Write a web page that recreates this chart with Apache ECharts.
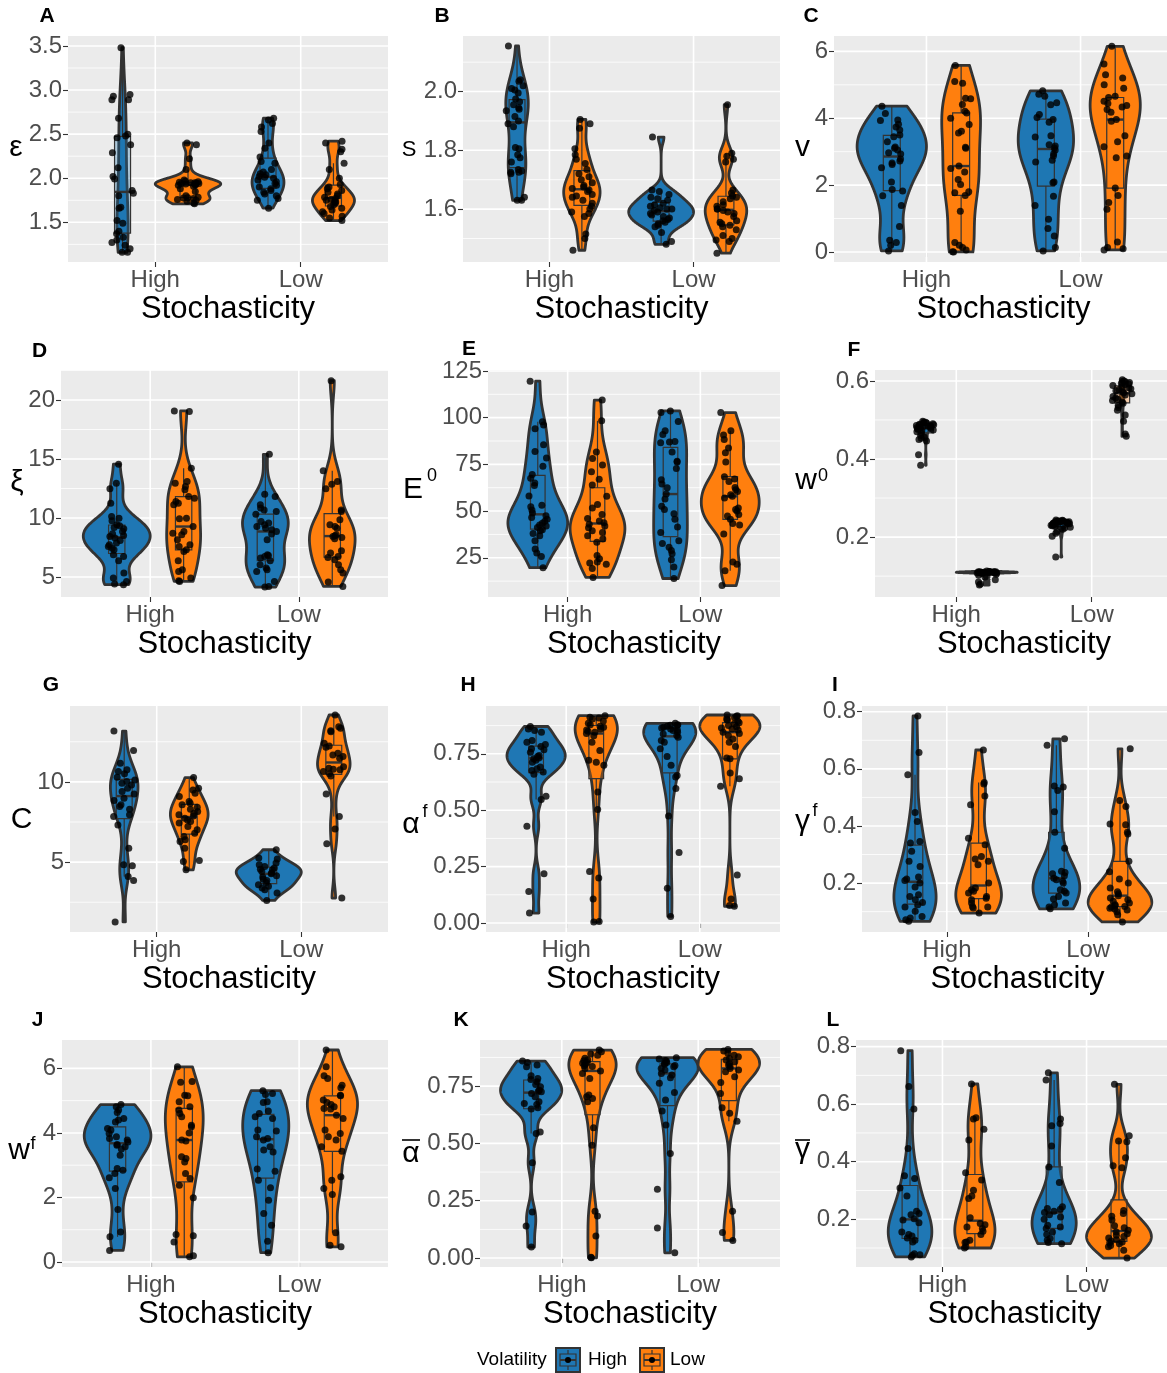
<!DOCTYPE html>
<html><head><meta charset="utf-8">
<script src="https://cdn.jsdelivr.net/npm/echarts@6/dist/echarts.min.js"></script>
<style>html,body{margin:0;padding:0;background:#fff}#chart{width:1167px;height:1373px}</style>
</head><body><div id="chart"></div>
<script>
// ---------------- categories ----------------
const stochasticity = ['High', 'Low'];
const volatility = ['High', 'Low'];

// ---------------- data (name_<Stochasticity><Volatility>) ----------------
// A: epsilon
const eps_HH = [3.48,2.95,2.93,2.89,2.89,2.68,2.50,2.48,2.46,2.38,2.29,2.12,2.02,1.99,1.86,1.83,1.80,1.67,1.66,1.52,1.49,1.40,1.37,1.33,1.30,1.27,1.24,1.20,1.16,1.16];
const eps_HL = [2.40,2.38,2.22,2.10,1.98,1.965,1.96,1.955,1.95,1.948,1.945,1.94,1.94,1.935,1.93,1.925,1.92,1.91,1.88,1.85,1.80,1.785,1.78,1.775,1.77,1.76,1.75,1.74,1.72,1.71];
const eps_LH = [2.68,2.66,2.62,2.58,2.53,2.40,2.34,2.24,2.19,2.17,2.10,2.07,2.05,2.04,2.02,2.01,2.00,1.98,1.96,1.94,1.92,1.90,1.88,1.86,1.84,1.82,1.80,1.77,1.75,1.66];
const eps_LL = [2.42,2.40,2.33,2.30,2.17,2.10,2.00,1.93,1.90,1.88,1.86,1.84,1.82,1.80,1.785,1.77,1.76,1.75,1.74,1.73,1.72,1.70,1.68,1.66,1.64,1.62,1.60,1.57,1.55,1.52];
// B: S
const S_HH = [2.155,2.04,2.035,2.02,2.01,2.005,1.995,1.975,1.965,1.955,1.945,1.94,1.935,1.915,1.90,1.89,1.88,1.81,1.805,1.785,1.775,1.76,1.735,1.73,1.725,1.725,1.72,1.64,1.63,1.63];
const S_HL = [1.905,1.89,1.875,1.805,1.785,1.77,1.755,1.735,1.72,1.71,1.70,1.69,1.68,1.675,1.67,1.665,1.66,1.65,1.645,1.64,1.63,1.62,1.61,1.60,1.59,1.585,1.575,1.515,1.50,1.46];
const S_LH = [1.845,1.665,1.66,1.65,1.64,1.635,1.63,1.62,1.615,1.61,1.605,1.60,1.60,1.595,1.59,1.585,1.58,1.575,1.57,1.565,1.56,1.555,1.55,1.545,1.54,1.52,1.49,1.48];
const S_LL = [1.955,1.79,1.78,1.77,1.76,1.665,1.655,1.645,1.64,1.635,1.625,1.615,1.61,1.60,1.60,1.595,1.59,1.585,1.575,1.56,1.555,1.55,1.545,1.54,1.53,1.51,1.50,1.495,1.49,1.45];
// C: v
const v_HH = [4.36,4.14,3.95,3.93,3.82,3.74,3.65,3.50,3.45,3.30,3.14,3.10,3.05,2.97,2.93,2.78,2.72,2.66,2.62,2.52,2.09,1.87,1.82,1.68,1.39,0.76,0.35,0.28,0.20,0.03];
const v_HL = [5.58,5.10,5.05,4.60,4.58,4.41,4.21,4.16,4.00,3.81,3.61,3.56,3.13,3.10,2.57,2.50,2.39,2.17,2.02,1.80,1.77,1.69,1.22,0.28,0.20,0.13,0.06,0.01,0.00];
const v_LH = [4.82,4.72,4.66,4.46,4.40,4.11,4.02,3.96,3.88,3.48,3.44,3.21,3.17,3.11,3.05,2.94,2.87,2.74,2.69,2.09,2.07,1.67,1.39,0.98,0.70,0.48,0.13,0.03];
const v_LL = [6.15,5.62,5.30,5.20,5.00,4.90,4.66,4.62,4.51,4.44,4.38,4.34,4.26,4.18,3.96,3.91,3.48,3.30,3.15,2.87,2.82,1.91,1.69,1.48,1.28,0.30,0.13,0.10,0.06];
// D: xi
const xi_HH = [14.56,12.95,12.47,11.26,10.13,9.99,9.76,9.43,9.35,9.20,9.09,8.86,8.67,8.52,8.44,8.30,8.10,7.88,7.73,7.59,7.45,7.31,6.89,6.75,6.38,5.34,4.92,4.63,4.41,4.35];
const xi_HL = [19.07,19.03,14.22,13.09,12.95,12.67,12.39,11.82,11.68,11.40,11.26,11.12,9.99,9.93,9.28,8.86,8.72,8.58,8.16,7.73,7.59,7.31,7.17,6.38,5.62,5.48,4.92,4.69,4.63];
const xi_LH = [15.40,12.02,11.82,11.12,10.84,10.69,10.55,10.33,9.71,9.57,9.43,9.28,9.14,9.00,8.86,8.64,8.16,6.89,6.83,6.75,6.61,6.38,6.04,5.76,5.62,5.48,4.63,4.21,4.15];
const xi_LL = [21.63,14.00,13.09,12.87,12.47,10.69,10.55,9.85,9.43,9.28,9.14,8.58,8.50,8.44,8.35,8.24,7.23,7.03,6.75,6.66,6.47,6.04,5.62,5.34,4.58,4.21];
// E: E0
const E0_HH = [119.5,97.8,96.0,94.0,85.5,81.9,78.4,74.0,69.6,67.5,65.0,63.7,58.0,53.1,52.3,50.5,49.0,47.5,46.5,45.6,44.5,43.5,42.5,42.0,41.2,40.0,39.4,38.0,36.8,34.1,29.7,27.5,25.7,19.7];
const E0_HL = [109.4,98.3,81.6,78.1,74.6,71.0,67.0,64.0,57.9,53.5,51.7,48.2,46.0,44.7,43.8,42.9,42.0,41.0,39.4,38.5,36.8,35.0,33.3,26.2,24.5,22.7,22.2,21.5,19.2,14.5];
const E0_LH = [103.6,102.7,98.0,93.0,91.0,87.2,86.9,86.5,81.6,76.7,76.3,72.8,66.7,64.5,62.5,59.1,56.5,52.6,50.8,48.6,45.6,41.5,38.5,34.1,32.7,30.6,28.9,27.1,24.0,20.1,13.9];
const E0_LL = [102.7,93.0,90.7,88.3,83.7,81.2,76.3,68.4,67.2,65.8,62.6,61.4,60.5,58.7,57.9,57.0,51.7,50.8,50.0,48.2,47.3,45.6,43.3,42.6,37.7,22.7,21.5,18.0,10.1];
// F: w0
const w0_HH = [0.497,0.495,0.494,0.492,0.490,0.489,0.488,0.487,0.486,0.485,0.484,0.483,0.482,0.481,0.480,0.479,0.478,0.477,0.476,0.474,0.472,0.470,0.466,0.460,0.456,0.453,0.450,0.446,0.411,0.384];
const w0_HL = [0.113,0.112,0.112,0.111,0.111,0.111,0.111,0.110,0.110,0.110,0.110,0.110,0.110,0.110,0.109,0.109,0.109,0.109,0.109,0.108,0.108,0.108,0.107,0.105,0.102,0.098,0.091,0.085,0.080,0.077];
const w0_LH = [0.244,0.243,0.242,0.241,0.241,0.240,0.240,0.239,0.239,0.238,0.238,0.237,0.236,0.236,0.235,0.234,0.233,0.232,0.231,0.230,0.229,0.227,0.225,0.223,0.220,0.214,0.210,0.202,0.149];
const w0_LL = [0.603,0.600,0.598,0.596,0.594,0.592,0.590,0.588,0.585,0.582,0.580,0.578,0.575,0.572,0.570,0.567,0.564,0.560,0.556,0.553,0.550,0.546,0.543,0.538,0.532,0.525,0.513,0.497,0.464,0.458];
// G: C
const C_HH = [13.17,11.95,11.16,10.75,10.64,10.50,10.29,10.12,10.02,9.92,9.81,9.61,9.40,9.25,8.98,8.84,8.57,8.46,8.30,7.95,7.84,7.32,5.87,4.83,4.77,4.11,3.86,1.27];
const C_HL = [10.27,9.61,9.50,9.29,9.09,8.78,8.67,8.57,8.42,8.30,8.15,8.05,7.95,7.88,7.74,7.63,7.53,7.43,7.22,7.01,6.80,6.60,6.39,6.29,5.87,5.10,5.04,4.52];
const C_LH = [5.77,5.25,5.19,4.94,4.83,4.73,4.63,4.56,4.52,4.42,4.32,4.27,4.15,4.07,3.94,3.86,3.73,3.59,3.49,3.38,3.28,3.07,2.61];
const C_LL = [14.17,13.44,13.34,13.19,13.13,12.41,12.24,12.16,11.78,11.68,11.58,11.47,10.95,10.85,10.79,10.75,10.64,10.50,10.37,9.25,7.84,7.07,6.14,2.76];
// H: alpha^f
const alphaF_HH = [0.871,0.860,0.853,0.846,0.809,0.801,0.791,0.782,0.772,0.768,0.757,0.743,0.738,0.732,0.728,0.721,0.713,0.691,0.684,0.676,0.669,0.659,0.562,0.547,0.429,0.218,0.140,0.044];
const alphaF_HL = [0.919,0.912,0.909,0.904,0.895,0.885,0.879,0.872,0.868,0.860,0.856,0.850,0.846,0.840,0.830,0.801,0.765,0.721,0.713,0.699,0.581,0.503,0.228,0.199,0.106,0.007,0.004];
const alphaF_LH = [0.885,0.879,0.877,0.875,0.872,0.868,0.865,0.860,0.856,0.853,0.846,0.838,0.831,0.824,0.809,0.801,0.772,0.738,0.699,0.654,0.647,0.596,0.474,0.312,0.154,0.029];
const alphaF_LL = [0.922,0.919,0.915,0.910,0.904,0.900,0.894,0.888,0.882,0.875,0.870,0.865,0.860,0.856,0.846,0.840,0.831,0.816,0.801,0.782,0.732,0.728,0.665,0.640,0.606,0.213,0.106,0.078,0.074];
// I: gamma^f
const gammaF_HH = [0.785,0.657,0.579,0.447,0.416,0.346,0.340,0.311,0.276,0.258,0.221,0.214,0.209,0.200,0.186,0.159,0.153,0.142,0.132,0.124,0.116,0.101,0.083,0.078,0.072,0.066];
const gammaF_HL = [0.666,0.552,0.547,0.505,0.474,0.357,0.334,0.293,0.284,0.276,0.264,0.200,0.183,0.177,0.171,0.165,0.153,0.147,0.142,0.130,0.118,0.116,0.113,0.095];
const gammaF_LH = [0.705,0.683,0.540,0.536,0.524,0.450,0.378,0.322,0.241,0.237,0.233,0.226,0.217,0.212,0.206,0.200,0.177,0.171,0.165,0.153,0.144,0.130,0.124,0.116,0.110];
const gammaF_LL = [0.670,0.489,0.468,0.407,0.404,0.378,0.372,0.276,0.240,0.214,0.200,0.183,0.170,0.163,0.156,0.148,0.142,0.136,0.130,0.124,0.121,0.118,0.116,0.112,0.109,0.106,0.100,0.089,0.064];
// J: w^f
const wF_HH = [4.88,4.81,4.71,4.63,4.45,4.40,4.34,4.14,4.09,3.98,3.88,3.83,3.78,3.72,3.64,3.62,3.57,3.50,3.31,2.90,2.84,2.74,2.61,2.28,1.63,0.93,0.78,0.36];
const wF_HL = [6.05,5.59,5.57,5.17,5.15,4.97,4.81,4.71,4.60,4.50,4.24,4.19,4.00,3.78,3.75,3.26,3.21,3.10,2.74,2.59,2.38,1.99,0.85,0.81,0.62,0.19,0.16];
const wF_LH = [5.31,5.22,5.19,4.97,4.94,4.68,4.60,4.50,4.45,4.09,4.06,3.88,3.83,3.78,3.57,3.47,3.41,2.88,2.81,2.53,2.30,1.91,1.50,1.14,0.64,0.29];
const wF_LL = [6.57,6.05,5.77,5.69,5.48,5.40,5.17,5.15,5.02,4.94,4.88,4.81,4.76,4.74,4.55,4.45,4.09,3.98,3.88,3.78,3.57,3.43,2.64,2.53,2.28,2.09,0.91,0.52,0.47];
// K: alpha bar
const alphaBar_HH = [0.859,0.853,0.842,0.834,0.795,0.783,0.779,0.769,0.757,0.747,0.732,0.728,0.725,0.718,0.703,0.682,0.674,0.670,0.655,0.650,0.550,0.543,0.416,0.201,0.140,0.048];
const alphaBar_HL = [0.907,0.900,0.890,0.885,0.871,0.864,0.860,0.853,0.850,0.845,0.839,0.835,0.827,0.816,0.805,0.783,0.711,0.703,0.696,0.682,0.568,0.492,0.204,0.183,0.096,0.004,0.001];
const alphaBar_LH = [0.874,0.868,0.862,0.859,0.853,0.849,0.845,0.840,0.834,0.827,0.820,0.805,0.798,0.786,0.762,0.722,0.689,0.641,0.580,0.456,0.300,0.131,0.023];
const alphaBar_LL = [0.910,0.903,0.893,0.885,0.878,0.870,0.864,0.856,0.849,0.842,0.835,0.827,0.820,0.813,0.791,0.766,0.718,0.655,0.631,0.597,0.204,0.111,0.077];
// L: gamma bar
const gammaBar_HH = [0.786,0.661,0.583,0.446,0.351,0.342,0.309,0.281,0.228,0.220,0.216,0.202,0.197,0.188,0.156,0.147,0.142,0.135,0.127,0.121,0.080,0.077,0.075,0.069];
const gammaBar_HL = [0.670,0.553,0.548,0.513,0.475,0.362,0.336,0.301,0.281,0.272,0.205,0.185,0.181,0.173,0.168,0.158,0.147,0.127,0.121,0.119,0.104,0.100];
const gammaBar_LH = [0.709,0.684,0.548,0.533,0.525,0.455,0.382,0.328,0.243,0.237,0.235,0.228,0.223,0.216,0.208,0.200,0.179,0.173,0.168,0.156,0.147,0.133,0.127,0.119,0.115];
const gammaBar_LL = [0.669,0.490,0.472,0.469,0.414,0.386,0.379,0.230,0.220,0.210,0.197,0.177,0.170,0.162,0.156,0.150,0.144,0.140,0.135,0.129,0.124,0.121,0.118,0.115,0.109,0.104,0.092,0.065];

// ---------------- tick labels ----------------
const eps_ticks = [1.5, 2.0, 2.5, 3.0, 3.5];
const S_ticks = [1.6, 1.8, 2.0];
const v_ticks = [0, 2, 4, 6];
const xi_ticks = [5, 10, 15, 20];
const E0_ticks = [25, 50, 75, 100, 125];
const w0_ticks = [0.2, 0.4, 0.6];
const C_ticks = [5, 10];
const alphaF_ticks = [0, 0.25, 0.5, 0.75];
const gammaF_ticks = [0.2, 0.4, 0.6, 0.8];
const wF_ticks = [0, 2, 4, 6];
const alphaBar_ticks = [0, 0.25, 0.5, 0.75];
const gammaBar_ticks = [0.2, 0.4, 0.6, 0.8];

// ---------------- layout / style ----------------
const FF = '"Liberation Sans", Arial, Helvetica, sans-serif';
const FILL = ['#1F77B4', '#FF7F0E'];
const BOXFILL = ['rgba(31,119,180,0.3)', 'rgba(255,127,14,0.3)'];
const OUT = '#333333';
const DODGE = 0.225, VHALF = 0.225, BHALF = 0.055, JIT = 0.075;

const panels = [
  {tag:'A', groups:[eps_HH,eps_HL,eps_LH,eps_LL], ticks:eps_ticks, dec:1, yMin:1.05, yMax:3.613, rect:[68,36,320,226], tagXY:[47,16]},
  {tag:'B', groups:[S_HH,S_HL,S_LH,S_LL], ticks:S_ticks, dec:1, yMin:1.42, yMax:2.189, rect:[463,36,317,226], tagXY:[442,16]},
  {tag:'C', groups:[v_HH,v_HL,v_LH,v_LL], ticks:v_ticks, dec:0, yMin:-0.3, yMax:6.46, rect:[834,36,339,226], tagXY:[811,16]},
  {tag:'D', groups:[xi_HH,xi_HL,xi_LH,xi_LL], ticks:xi_ticks, dec:0, yMin:3.31, yMax:22.54, rect:[61,370,327,227], tagXY:[39.5,351]},
  {tag:'E', groups:[E0_HH,E0_HL,E0_LH,E0_LL], ticks:E0_ticks, dec:0, yMin:4, yMax:125.5, rect:[488,370,292,227], tagXY:[469,349]},
  {tag:'F', groups:[w0_HH,w0_HL,w0_LH,w0_LL], ticks:w0_ticks, dec:1, yMin:0.0465, yMax:0.628, rect:[875,370,298,227], tagXY:[854,350]},
  {tag:'G', groups:[C_HH,C_HL,C_LH,C_LL], ticks:C_ticks, dec:0, yMin:0.644, yMax:14.73, rect:[70,706,318,226], tagXY:[51,685]},
  {tag:'H', groups:[alphaF_HH,alphaF_HL,alphaF_LH,alphaF_LL], ticks:alphaF_ticks, dec:2, yMin:-0.04, yMax:0.962, rect:[486,706,294,226], tagXY:[468,685]},
  {tag:'I', groups:[gammaF_HH,gammaF_HL,gammaF_LH,gammaF_LL], ticks:gammaF_ticks, dec:1, yMin:0.0287, yMax:0.82, rect:[862,706,311,226], tagXY:[835,685]},
  {tag:'J', groups:[wF_HH,wF_HL,wF_LH,wF_LL], ticks:wF_ticks, dec:0, yMin:-0.155, yMax:6.88, rect:[62,1040,326,227], tagXY:[37.5,1020]},
  {tag:'K', groups:[alphaBar_HH,alphaBar_HL,alphaBar_LH,alphaBar_LL], ticks:alphaBar_ticks, dec:2, yMin:-0.039, yMax:0.951, rect:[480,1040,300,227], tagXY:[461,1020]},
  {tag:'L', groups:[gammaBar_HH,gammaBar_HL,gammaBar_LH,gammaBar_LL], ticks:gammaBar_ticks, dec:1, yMin:0.034, yMax:0.823, rect:[856,1040,317,227], tagXY:[833,1020]}
];

// y-axis titles: [text, centerX, baseline, fontSize]
const yTitleParts = [
  ['ε', 16, 158, 30], ['S', 409, 158, 22], ['v', 802.5, 158, 30],
  ['ξ', 17, 493, 30], ['E', 413, 500, 30], ['0', 432, 482, 18], ['w', 806, 491.5, 30], ['0', 823, 482, 18],
  ['C', 21.5, 830, 30], ['α', 411, 835, 30], ['f', 425, 818, 18], ['γ', 802.5, 832, 30], ['f', 815, 817, 18],
  ['w', 19, 1161.5, 30], ['f', 33, 1150, 18], ['α', 411, 1164, 30], ['γ', 802.5, 1160, 30]
];
const overlines = [[402, 420, 1140], [795, 810, 1140]];

// ---------------- statistics helpers ----------------
function sortedCopy(a){ return a.slice().sort((x,y)=>x-y); }
function q7(s,p){ const h=(s.length-1)*p, lo=Math.floor(h), hi=Math.min(lo+1,s.length-1); return s[lo]+(h-lo)*(s[hi]-s[lo]); }
function sdev(a){ const m=a.reduce((u,v)=>u+v,0)/a.length; return Math.sqrt(a.reduce((u,v)=>u+(v-m)*(v-m),0)/(a.length-1)); }
function bwNrd0(a){ const s=sortedCopy(a); const hi=sdev(a); let lo=Math.min(hi,(q7(s,0.75)-q7(s,0.25))/1.34); if(!(lo>0)) lo=hi||Math.abs(s[0])||1; return 0.9*lo*Math.pow(a.length,-0.2); }
function kde(a,n){
  const s=sortedCopy(a), bw=bwNrd0(a), lo=s[0], hi=s[s.length-1];
  const c=1/(a.length*bw*Math.sqrt(2*Math.PI)), out=[];
  for(let i=0;i<n;i++){ const y=lo+(hi-lo)*i/(n-1); let d=0; for(const v of a){ const z=(y-v)/bw; d+=Math.exp(-0.5*z*z); } out.push([y,d*c]); }
  return out;
}
function boxStats(a){
  const s=sortedCopy(a); const q1=q7(s,0.25), med=q7(s,0.5), q3=q7(s,0.75), iqr=q3-q1;
  const lw=s.find(v=>v>=q1-1.5*iqr); const uw=s.slice().reverse().find(v=>v<=q3+1.5*iqr);
  return {q1,med,q3,lw,uw};
}
function jitter(pi,k,j){ const s=Math.sin((pi+1)*127.1+(k+1)*311.7+(j+1)*74.7)*43758.5453; return ((s-Math.floor(s))-0.5)*2*JIT; }
function minorsOf(t, lo, hi){
  const st=t[1]-t[0], out=[];
  for(let i=-1;i<t.length;i++){ const m=t[0]+st*(i+0.5); if(m>lo && m<hi) out.push(m); }
  return out;
}

// ---------------- build option ----------------
const grids=[], xAxes=[], yAxes=[], series=[], graphics=[];
panels.forEach((p,pi)=>{
  const [l,t,w,h]=p.rect;
  grids.push({left:l, top:t, width:w, height:h, show:true, backgroundColor:'#EBEBEB', borderWidth:0, containLabel:false, outerBoundsMode:'none'});
  xAxes.push({gridIndex:pi, type:'value', min:0.4, max:2.6,
    axisLine:{show:false}, splitLine:{show:false},
    axisTick:{show:true, length:5, lineStyle:{color:OUT, width:1.1}, customValues:[1,2]},
    axisLabel:{customValues:[1,2], formatter:v=>stochasticity[Math.round(v)-1], color:'#4D4D4D', fontSize:24, fontFamily:FF, margin:6},
    name:'Stochasticity', nameLocation:'middle', nameGap:32, nameTextStyle:{color:'#000', fontSize:31, fontFamily:FF}});
  yAxes.push({gridIndex:pi, type:'value', min:p.yMin, max:p.yMax,
    axisLine:{show:false}, splitLine:{show:false},
    axisTick:{show:true, length:5, lineStyle:{color:OUT, width:1.1}, customValues:p.ticks},
    axisLabel:{customValues:p.ticks, formatter:v=>v.toFixed(p.dec), color:'#4D4D4D', fontSize:24, fontFamily:FF, margin:6}});

  const groups=p.groups.map((vals,k)=>{
    const s=Math.floor(k/2), v=k%2;
    return {vals, v, cx:s+1+(v===0?-DODGE:DODGE), dens:kde(vals,512), stats:boxStats(vals)};
  });
  let maxD=0; groups.forEach(g=>g.dens.forEach(d=>{ if(d[1]>maxD) maxD=d[1]; }));
  groups.forEach(g=>{
    const right=g.dens.map(([y,d])=>[g.cx+VHALF*d/maxD,y]);
    const left=g.dens.map(([y,d])=>[g.cx-VHALF*d/maxD,y]).reverse();
    g.poly=right.concat(left);
  });
  const minors=minorsOf(p.ticks,p.yMin,p.yMax);

  series.push({type:'custom', xAxisIndex:pi, yAxisIndex:pi, silent:true, z:1, clip:false,
    data:[[1.5,p.ticks[0]]],
    renderItem:(params,api)=>{
      const cs=params.coordSys, ch=[];
      minors.forEach(m=>{ const y=api.coord([1,m])[1]; ch.push({type:'line', shape:{x1:cs.x,y1:y,x2:cs.x+cs.width,y2:y}, style:{stroke:'#FFFFFF', lineWidth:0.8}}); });
      p.ticks.forEach(m=>{ const y=api.coord([1,m])[1]; ch.push({type:'line', shape:{x1:cs.x,y1:y,x2:cs.x+cs.width,y2:y}, style:{stroke:'#FFFFFF', lineWidth:1.6}}); });
      [1,2].forEach(xv=>{ const x=api.coord([xv,p.ticks[0]])[0]; ch.push({type:'line', shape:{x1:x,y1:cs.y,x2:x,y2:cs.y+cs.height}, style:{stroke:'#FFFFFF', lineWidth:1.6}}); });
      return {type:'group', children:ch};
    }});

  series.push({type:'custom', xAxisIndex:pi, yAxisIndex:pi, silent:true, z:2, clip:false,
    data:groups.map(g=>[g.cx,g.stats.med]),
    renderItem:(params,api)=>{
      const g=groups[params.dataIndex], st=g.stats, c=(x,y)=>api.coord([x,y]);
      const pts=g.poly.map(q=>api.coord(q));
      const tl=c(g.cx-BHALF,st.q3), br=c(g.cx+BHALF,st.q1);
      const up=c(g.cx,st.uw), lo=c(g.cx,st.lw), md=c(g.cx,st.med);
      return {type:'group', children:[
        {type:'polygon', shape:{points:pts}, style:{fill:FILL[g.v], stroke:OUT, lineWidth:2.8, lineJoin:'round'}},
        {type:'line', shape:{x1:up[0],y1:up[1],x2:up[0],y2:tl[1]}, style:{stroke:OUT, lineWidth:1.2}},
        {type:'line', shape:{x1:lo[0],y1:br[1],x2:lo[0],y2:lo[1]}, style:{stroke:OUT, lineWidth:1.2}},
        {type:'rect', shape:{x:tl[0],y:tl[1],width:br[0]-tl[0],height:br[1]-tl[1]}, style:{fill:BOXFILL[g.v], stroke:OUT, lineWidth:1.2}},
        {type:'line', shape:{x1:tl[0],y1:md[1],x2:br[0],y2:md[1]}, style:{stroke:OUT, lineWidth:2.4}}
      ]};
    }});

  series.push({type:'scatter', xAxisIndex:pi, yAxisIndex:pi, silent:true, z:3, symbol:'circle', symbolSize:7,
    itemStyle:{color:'#000000'},
    data:groups.flatMap((g,k)=>g.vals.map((v,j)=>[g.cx+jitter(pi,k,j),v]))});

  graphics.push({type:'text', x:p.tagXY[0], y:p.tagXY[1], silent:true,
    style:{text:p.tag, fill:'#000', font:'bold 21px '+FF, align:'center', verticalAlign:'middle', textAlign:'center', textVerticalAlign:'middle'}});
});

yTitleParts.forEach(([txt,cx,base,fs])=>{
  graphics.push({type:'text', x:cx, y:base-0.3465*fs, silent:true,
    style:{text:txt, fill:'#000', font:fs+'px '+FF, align:'center', verticalAlign:'middle', textAlign:'center', textVerticalAlign:'middle'}});
});
overlines.forEach(([x1,x2,y])=>{
  graphics.push({type:'line', silent:true, shape:{x1,y1:y,x2,y2:y}, style:{stroke:'#000', lineWidth:1.6}});
});

// legend (drawn as graphics)
const LEG_Y = 1360;
graphics.push({type:'text', x:477, y:LEG_Y, silent:true, style:{text:'Volatility', fill:'#000', font:'19px '+FF, align:'left', verticalAlign:'middle', textAlign:'left', textVerticalAlign:'middle'}});
[[556, 0, 588], [640, 1, 670]].forEach(([kx, v, tx])=>{
  const ky=LEG_Y-12, ks=24;
  graphics.push({type:'rect', silent:true, shape:{x:kx,y:ky,width:ks,height:ks}, style:{fill:FILL[v], stroke:OUT, lineWidth:2}});
  graphics.push({type:'line', silent:true, shape:{x1:kx+ks/2,y1:ky+2,x2:kx+ks/2,y2:ky+ks-2}, style:{stroke:OUT, lineWidth:1.2}});
  graphics.push({type:'rect', silent:true, shape:{x:kx+4,y:ky+6,width:ks-8,height:ks-12}, style:{fill:FILL[v], stroke:OUT, lineWidth:1.2}});
  graphics.push({type:'line', silent:true, shape:{x1:kx+4,y1:ky+ks/2,x2:kx+ks-4,y2:ky+ks/2}, style:{stroke:OUT, lineWidth:2}});
  graphics.push({type:'circle', silent:true, shape:{cx:kx+ks/2,cy:ky+ks/2,r:3}, style:{fill:'#000'}});
  graphics.push({type:'text', x:tx, y:LEG_Y, silent:true, style:{text:volatility[v], fill:'#000', font:'19px '+FF, align:'left', verticalAlign:'middle', textAlign:'left', textVerticalAlign:'middle'}});
});

const chart = echarts.init(document.getElementById('chart'), null, {renderer:'canvas', width:1167, height:1373});
chart.setOption({animation:false, backgroundColor:'#FFFFFF', grid:grids, xAxis:xAxes, yAxis:yAxes, series, graphic:graphics});
</script>
</body></html>
